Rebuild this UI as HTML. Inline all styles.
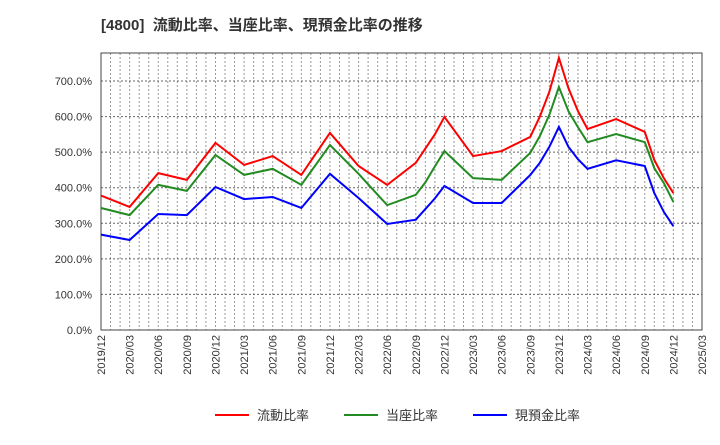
<!DOCTYPE html>
<html><head><meta charset="utf-8"><style>
body{margin:0;background:#fff;font-family:"Liberation Sans","Noto Sans CJK JP",sans-serif}
</style></head><body>
<svg id="c" width="720" height="440" xmlns="http://www.w3.org/2000/svg" font-family="Liberation Sans, Noto Sans CJK JP, sans-serif"></svg>
<script>
const months=[0,3,6,9,12,15,18,21,24,27,30,33,34,35,36,39,42,45,46,47,48,49,50,51,54,57,58,59,60];
const currentRatio=[378,346,441,422,526,464,489,436,554,461,408,470,510,550,599,489,503,543,600,670,765,680,615,565,593,557,478,427,385];
const quickRatio=[343,323,408,391,492,436,453,408,520,439,351,380,415,460,503,427,422,498,545,605,683,615,570,528,551,528,455,413,360];
const cashRatio=[268,253,326,323,402,368,374,343,439,371,298,310,340,370,405,357,357,436,470,515,571,515,480,453,477,461,385,332,292];
const yTicks=[0,100,200,300,400,500,600,700];
const xTickLabels=["2019/12","2020/03","2020/06","2020/09","2020/12","2021/03","2021/06","2021/09","2021/12","2022/03","2022/06","2022/09","2022/12","2023/03","2023/06","2023/09","2023/12","2024/03","2024/06","2024/09","2024/12","2025/03"];
const svg=document.getElementById('c');const NS='http://www.w3.org/2000/svg';
const L=101,R=702,T=53,B=330;
const x=m=>L+(R-L)*m/63;
const y=v=>B-v*(B-81)/700;
function mk(t,a,p){const e=document.createElementNS(NS,t);for(const k in a)e.setAttribute(k,a[k]);(p||svg).appendChild(e);return e;}
const title=mk('text',{x:101,y:30,'font-size':15,'font-weight':'bold',fill:'#333'});


title.textContent='[4800]\u00a0\u00a0流動比率、当座比率、現預金比率の推移';
const grid=mk('g',{});


for(let m=1;m<63;m++){mk('line',{x1:x(m),x2:x(m),y1:T,y2:B,stroke:'#999','stroke-dasharray':'2,2','stroke-width':1},grid);}
yTicks.forEach(v=>{mk('line',{x1:L,x2:R,y1:y(v),y2:y(v),stroke:'#666','stroke-dasharray':'2,2','stroke-width':1},grid);
const t=mk('text',{x:92,y:y(v)+4,'font-size':11,'text-anchor':'end',fill:'#333'});


t.textContent=v.toFixed(1)+'%';});
xTickLabels.forEach((s,i)=>{const xx=x(i*3);
const t=mk('text',{x:0,y:0,'font-size':11,'text-anchor':'end',fill:'#333',transform:`translate(${xx+4},335) rotate(-90)`});


t.textContent=s;});
const frame=mk('rect',{x:L,y:T,width:R-L,height:B-T,fill:'none',stroke:'#444','stroke-width':1});


function series(vals,col,name){const p=mk('polyline',{points:vals.map((v,i)=>x(months[i])+','+y(v)).join(' '),fill:'none',stroke:col,'stroke-width':2});

}
series(currentRatio,'#ff0000','current-ratio-line');
series(quickRatio,'#228b22','quick-ratio-line');
series(cashRatio,'#0000ff','cash-ratio-line');
const leg=[['流動比率','#ff0000',215],['当座比率','#228b22',344],['現預金比率','#0000ff',473]];
leg.forEach(([n,c,lx])=>{const g=mk('g',{});


mk('line',{x1:lx,x2:lx+34,y1:415,y2:415,stroke:c,'stroke-width':2},g);
const t=mk('text',{x:lx+42,y:420,'font-size':13,fill:'#333'},g);t.textContent=n;});
</script>
</body></html>
